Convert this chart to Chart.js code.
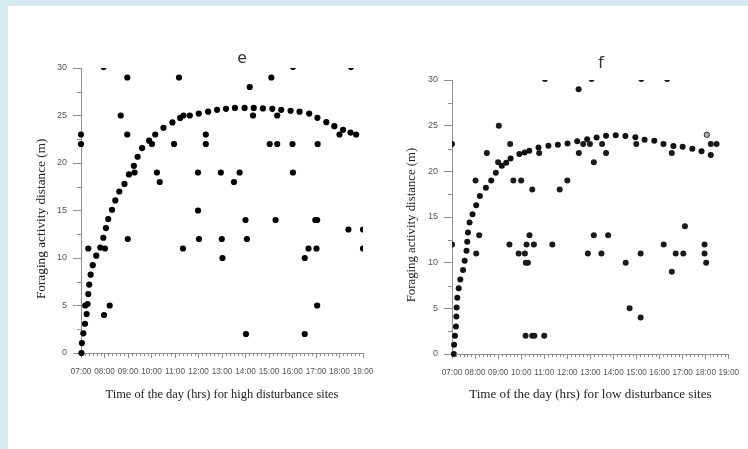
<!DOCTYPE html>
<html>
<head>
<meta charset="utf-8">
<script src="https://cdn.jsdelivr.net/npm/chart.js@4.4.1/dist/chart.umd.min.js"></script>
<style>
  body { margin: 0; width: 748px; height: 449px; background: #d6ebf0; position: relative; overflow: hidden; }
  #panel { position: absolute; left: 8px; top: 6px; right: 0; bottom: 0; background: #fff; }
  canvas { position: absolute; top: 0; }
  #chartE { left: 0; }
  #chartF { left: 370px; }
  .tag { position: absolute; font-family: 'Noto Sans', 'Open Sans', sans-serif; font-size: 17px; color: #333; line-height: 1; transform: translate(-50%, -50%); }
</style>
</head>
<body>
<div id="panel"></div>
<canvas id="chartE" width="390" height="449"></canvas>
<canvas id="chartF" width="378" height="449"></canvas>
<div class="tag" style="left:242px; top:56px">e</div>
<div class="tag" style="left:601px; top:61px">f</div>
<script>
const hourLabels = ['07:00', '08:00', '09:00', '10:00', '11:00', '12:00', '13:00',
  '14:00', '15:00', '16:00', '17:00', '18:00', '19:00'];

// e - high disturbance sites: fitted curve (drawn as dots)
const eCurveX = [7.02, 7.04, 7.10, 7.17, 7.24, 7.28, 7.31, 7.35, 7.41, 7.50, 7.65, 7.82, 7.95, 8.06, 8.16,
  8.32, 8.46, 8.63, 8.85, 9.04, 9.25, 9.41, 9.60, 9.90, 10.16, 10.51, 10.89, 11.22, 11.63, 12.01,
  12.41, 12.79, 13.17, 13.55, 13.96, 14.35, 14.74, 15.14, 15.52, 15.92, 16.30, 16.71, 17.06, 17.44,
  17.78, 18.15, 18.47, 18.71];
const eCurveY = [0, 1.05, 2.07, 3.08, 4.1, 5.15, 6.2, 7.2, 8.24, 9.25, 10.24, 11.1, 12.13, 13.15, 14.1,
  15.08, 16.06, 17.0, 17.8, 18.8, 19.7, 20.66, 21.57, 22.35, 23.0, 23.7, 24.27, 24.75, 25.0, 25.2,
  25.4, 25.6, 25.7, 25.8, 25.8, 25.8, 25.75, 25.7, 25.6, 25.5, 25.4, 25.2, 24.76, 24.3, 23.88,
  23.5, 23.2, 23.0];
// e - observed distances
const eObsX = [7.0, 7.0, 7.18, 7.31, 7.96, 7.98, 8.02, 8.22, 8.69, 8.97, 8.97, 8.99, 9.28, 10.02, 10.23,
  10.35, 10.96, 11.17, 11.34, 11.36, 11.98, 11.98, 12.02, 12.31, 12.31, 12.95, 12.99, 13.02, 13.51,
  13.75, 14.0, 14.06, 14.02, 14.18, 14.32, 15.03, 15.1, 15.28, 15.35, 15.35, 16.0, 16.02, 16.02,
  16.52, 16.52, 16.68, 16.97, 17.05, 17.02, 17.05, 17.07, 18.0, 18.38, 18.49, 19.0, 19.0];
const eObsY = [23, 22, 5, 11, 30.1, 4, 11, 5, 25, 29, 23, 12, 19, 22, 19,
  18, 22, 29, 11, 25, 19, 15, 12, 23, 22, 19, 12, 10, 18,
  19, 14, 12, 2, 28, 25, 22, 29, 14, 25, 22, 22, 19, 30.1,
  10, 2, 11, 14, 14, 11, 5, 22, 23, 13, 30.1, 13, 11];

// f - low disturbance sites: fitted curve
const fCurveX = [7.08, 7.09, 7.13, 7.17, 7.19, 7.2, 7.23, 7.29, 7.36, 7.48, 7.55, 7.63, 7.66, 7.69, 7.76,
  7.89, 8.05, 8.21, 8.47, 8.70, 8.90, 9.16, 9.35, 9.54, 9.92, 10.15, 10.35, 10.75, 11.18, 11.59,
  12.01, 12.43, 12.86, 13.27, 13.68, 14.1, 14.52, 14.95, 15.35, 15.77, 16.17, 16.6, 17.0, 17.42,
  17.82, 18.22];
const fCurveY = [0, 1.0, 2.0, 3.0, 4.1, 5.1, 6.16, 7.19, 8.17, 9.2, 10.2, 11.3, 12.3, 13.3, 14.4,
  15.3, 16.3, 17.3, 18.2, 19.0, 19.85, 20.6, 20.95, 21.4, 21.9, 22.05, 22.26, 22.6, 22.8, 22.9,
  23.06, 23.3, 23.5, 23.7, 23.9, 23.94, 23.87, 23.72, 23.47, 23.36, 23.0, 22.77, 22.7, 22.48,
  22.19, 21.79];
// f - observed distances
const fObsX = [7.0, 7.0, 8.02, 8.05, 8.18, 8.51, 9.03, 9.0, 9.52, 9.49, 9.66, 10.0, 9.89, 10.16, 10.2,
  10.29, 10.36, 10.23, 10.55, 10.48, 10.78, 11.03, 11.35, 10.19, 10.48, 10.57, 11.0, 11.67, 12.0,
  12.49, 12.5, 12.69, 12.98, 13.05, 13.15, 13.51, 13.68, 12.89, 13.15, 13.48, 13.77, 14.53, 14.7,
  15.18, 15.18, 14.99, 15.21, 16.18, 16.33, 16.53, 16.53, 16.7, 17.03, 17.1, 17.95, 17.95, 18.02,
  18.22, 18.47];
const fObsY = [23, 12, 19, 11, 13, 22, 25, 21, 23, 12, 19, 19, 11, 11, 10,
  10, 13, 12, 12, 18, 22, 30.1, 12, 2, 2, 2, 2, 18, 19,
  29, 22, 23, 23, 30.1, 21, 23, 22, 11, 13, 11, 13, 10, 5,
  4, 11, 23, 30.1, 12, 30.1, 22, 9, 11, 11, 14, 12, 11, 10,
  23, 23];
// f - half-filled marker
const fOpenX = [18.05];
const fOpenY = [24];

const axisColor = '#8f8f8f';
const tickColor = '#555';
const xTickFont = { family: "'Liberation Sans', Arial, sans-serif", size: 8.2 };
const yTickFont = { family: "'Liberation Sans', Arial, sans-serif", size: 9 };
const serif = "'Liberation Serif', 'Times New Roman', serif";

function pts(xs, ys) {
  return xs.map((x, i) => ({ x: x, y: ys[i] }));
}

// short minor ticks: every 10 minutes on x, halfway on y
const minorTicks = {
  id: 'minorTicks',
  afterDraw(chart) {
    const { ctx, scales: { x, y } } = chart;
    ctx.save();
    ctx.strokeStyle = axisColor;
    ctx.lineWidth = 1;
    ctx.beginPath();
    for (let i = 1; i < 72; i++) {
      if (i % 6 === 0) continue;
      const px = Math.round(x.getPixelForValue(7 + i / 6)) + 0.5;
      ctx.moveTo(px, x.top);
      ctx.lineTo(px, x.top + 3);
    }
    for (let i = 0; i < 6; i++) {
      const py = Math.round(y.getPixelForValue(2.5 + i * 5)) + 0.5;
      ctx.moveTo(y.right, py);
      ctx.lineTo(y.right - 4, py);
    }
    ctx.stroke();
    ctx.restore();
  }
};

function buildChart(id, cfg) {
  return new Chart(document.getElementById(id), {
    type: 'scatter',
    data: { datasets: cfg.datasets },
    options: {
      responsive: false,
      animation: false,
      devicePixelRatio: 1,
      layout: { padding: { left: 0, top: cfg.top, right: cfg.right, bottom: 0 } },
      plugins: { legend: { display: false }, tooltip: { enabled: false } },
      scales: {
        x: {
          type: 'linear', min: 7, max: 19,
          afterFit: s => { s.height = cfg.xHeight; },
          border: { color: axisColor, width: 1 },
          grid: { drawOnChartArea: false, tickLength: 5, color: axisColor },
          ticks: {
            stepSize: 1, autoSkip: false, maxRotation: 0, padding: 9,
            color: tickColor, font: xTickFont,
            callback: v => hourLabels[Math.round(v - 7)]
          },
          title: {
            display: true, text: cfg.xTitle, color: '#222',
            font: { family: serif, size: cfg.xTitleSize },
            padding: { top: 0, bottom: cfg.xTitlePad }
          }
        },
        y: {
          type: 'linear', min: 0, max: 30,
          afterFit: s => { s.width = cfg.yWidth; },
          border: { color: axisColor, width: 1 },
          grid: { drawOnChartArea: false, tickLength: 8, color: axisColor },
          ticks: { stepSize: 5, padding: 6, color: tickColor, font: yTickFont },
          title: {
            display: true, text: 'Foraging activity distance (m)' + '\u00a0'.repeat(5), color: '#222',
            font: { family: serif, size: cfg.yTitleSize },
            padding: { top: 34, bottom: 0 }
          }
        }
      }
    },
    plugins: [minorTicks]
  });
}

const clipTopRight = { left: false, top: 0, right: 0, bottom: false };
const clipAll = { left: 0, top: 0, right: 0, bottom: false };

buildChart('chartE', {
  top: 68, right: 27, xHeight: 96, yWidth: 81,
  xTitle: 'Time of the day (hrs) for high disturbance sites', xTitleSize: 12.4, xTitlePad: 47,
  yTitleSize: 13.3,
  datasets: [
    { data: pts(eCurveX, eCurveY), pointRadius: 3.1, pointBorderWidth: 0, backgroundColor: '#000', clip: clipTopRight },
    { data: pts(eObsX, eObsY), pointRadius: 3.1, pointBorderWidth: 0, backgroundColor: '#000', clip: clipTopRight }
  ]
});

buildChart('chartF', {
  top: 80, right: 17, xHeight: 95, yWidth: 82,
  xTitle: 'Time of the day (hrs) for low disturbance sites', xTitleSize: 13.1, xTitlePad: 47,
  yTitleSize: 12.8,
  datasets: [
    { data: pts(fCurveX, fCurveY), pointRadius: 3, pointBorderWidth: 0, backgroundColor: '#111', clip: clipTopRight },
    { data: pts(fObsX, fObsY), pointRadius: 3, pointBorderWidth: 0, backgroundColor: '#1a1a1a', clip: clipAll },
    { data: pts(fOpenX, fOpenY), pointRadius: 2.7, pointBorderWidth: 1, borderColor: '#333', backgroundColor: '#aaa', clip: clipAll }
  ]
});
</script>
</body>
</html>
